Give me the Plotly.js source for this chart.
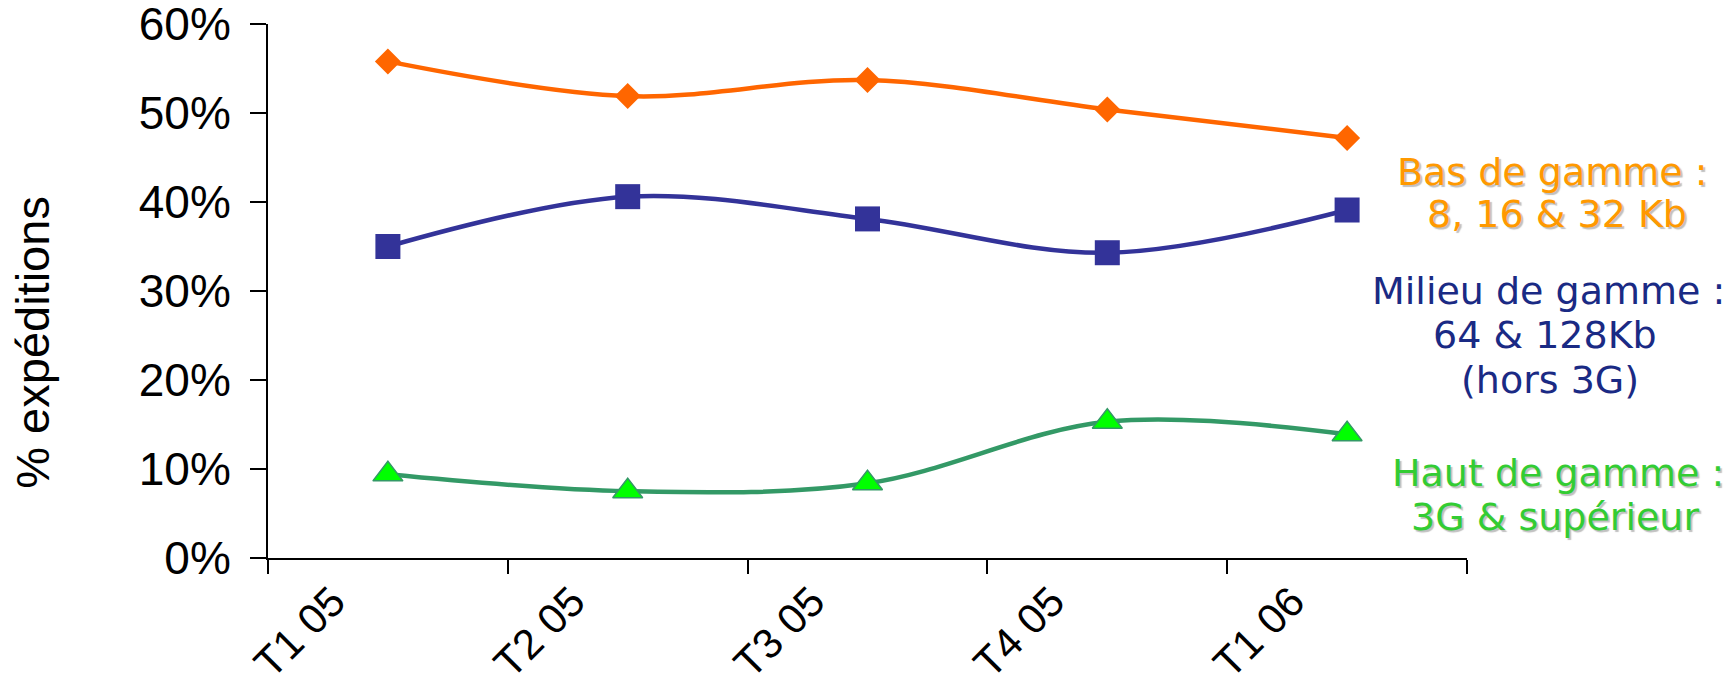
<!DOCTYPE html>
<html>
<head>
<meta charset="utf-8">
<script src="https://cdn.plot.ly/plotly-3.0.1.min.js"></script>
<style>
  html, body { margin: 0; padding: 0; background: #ffffff; }
  #chart { width: 1736px; height: 687px; }
</style>
</head>
<body>
<div id="chart"></div>
<script>
// Categories (quarters)
var quarters = ["T1 05", "T2 05", "T3 05", "T4 05", "T1 06"];

// Share of shipments per segment
var basDeGamme    = [0.558, 0.519, 0.537, 0.504, 0.472];
var milieuDeGamme = [0.350, 0.406, 0.381, 0.343, 0.391];
var hautDeGamme   = [0.094, 0.075, 0.084, 0.153, 0.139];

// Y tick values / labels
var yTickVals = [0, 0.1, 0.2, 0.3, 0.4, 0.5, 0.6];
var yTickText = ["0%", "10%", "20%", "30%", "40%", "50%", "60%"];

// Axis title
var yTitle = "% expéditions";

// Right-side segment labels (one entry per text line)
var labelLines = [
  "Bas de gamme :", "8, 16 & 32 Kb",
  "Milieu de gamme :", "64 & 128Kb", "(hors 3G)",
  "Haut de gamme :", "3G & supérieur"
];

var traces = [
  {
    x: quarters, y: hautDeGamme, type: "scatter", mode: "lines+markers",
    name: "Haut de gamme",
    line: { color: "#339966", width: 4.5, shape: "spline", smoothing: 1 },
    marker: { symbol: "triangle-up", size: 26, color: "#00FF00",
              line: { color: "#339966", width: 1.5 } },
    cliponaxis: false
  },
  {
    x: quarters, y: milieuDeGamme, type: "scatter", mode: "lines+markers",
    name: "Milieu de gamme",
    line: { color: "#333399", width: 4.5, shape: "spline", smoothing: 1 },
    marker: { symbol: "square", size: 25, color: "#333399" },
    cliponaxis: false
  },
  {
    x: quarters, y: basDeGamme, type: "scatter", mode: "lines+markers",
    name: "Bas de gamme",
    line: { color: "#FF6600", width: 4.5, shape: "spline", smoothing: 1 },
    marker: { symbol: "diamond", size: 20, color: "#FF6600" },
    cliponaxis: false
  }
];

var shadow = "2px 2px 1px rgba(150,150,150,0.6)";
var fam = "DejaVu Sans, Verdana, sans-serif";
var orangeFont = { family: fam, size: 38, color: "#FF9900", shadow: shadow };
var blueFont   = { family: fam, size: 38, color: "#1A2A84" };
var greenFont  = { family: fam, size: 38, color: "#33CC33", shadow: shadow };

var linePos = [
  [1.0709, 0.7228, orangeFont],
  [1.0751, 0.6442, orangeFont],
  [1.0676, 0.5000, blueFont],
  [1.0651, 0.4176, blueFont],
  [1.0692, 0.3333, blueFont],
  [1.0759, 0.1592, greenFont],
  [1.0734, 0.0768, greenFont]
];

var annotations = labelLines.map(function (t, i) {
  return {
    text: t, xref: "paper", yref: "paper",
    x: linePos[i][0], y: linePos[i][1],
    xanchor: "center", yanchor: "middle",
    showarrow: false, font: linePos[i][2]
  };
});

annotations.push({
  text: yTitle, xref: "paper", yref: "paper",
  x: -0.196, y: 0.405, xanchor: "center", yanchor: "middle",
  textangle: -90, showarrow: false,
  font: { family: "Liberation Sans, Arial, sans-serif", size: 47, color: "#000000" }
});

var layout = {
  width: 1736, height: 687,
  paper_bgcolor: "#ffffff", plot_bgcolor: "#ffffff",
  showlegend: false,
  margin: { l: 268, r: 269, t: 24, b: 129 },
  font: { family: "Liberation Sans, Arial, sans-serif", color: "#000000" },
  xaxis: {
    type: "category",
    range: [-0.5, 4.5],
    tickson: "boundaries",
    ticks: "outside", ticklen: 14, tickwidth: 2, tickcolor: "#000000",
    showline: true, linecolor: "#000000", linewidth: 2,
    showgrid: false, zeroline: false,
    tickangle: -45,
    ticklabelshift: -55,
    ticklabelstandoff: 0,
    ticklabeloverflow: "allow",
    tickfont: { family: "Liberation Sans, Arial, sans-serif", size: 42, color: "#000000" },
    automargin: false
  },
  yaxis: {
    range: [0, 0.6],
    tickvals: yTickVals, ticktext: yTickText,
    ticks: "outside", ticklen: 16, tickwidth: 2, tickcolor: "#000000",
    showline: true, linecolor: "#000000", linewidth: 2,
    showgrid: false, zeroline: false,
    ticklabelstandoff: 10,
    ticklabeloverflow: "allow",
    tickfont: { family: "Liberation Sans, Arial, sans-serif", size: 46, color: "#000000" },
    automargin: false
  },
  annotations: annotations
};

Plotly.newPlot("chart", traces, layout, { displayModeBar: false, staticPlot: true });
</script>
</body>
</html>
